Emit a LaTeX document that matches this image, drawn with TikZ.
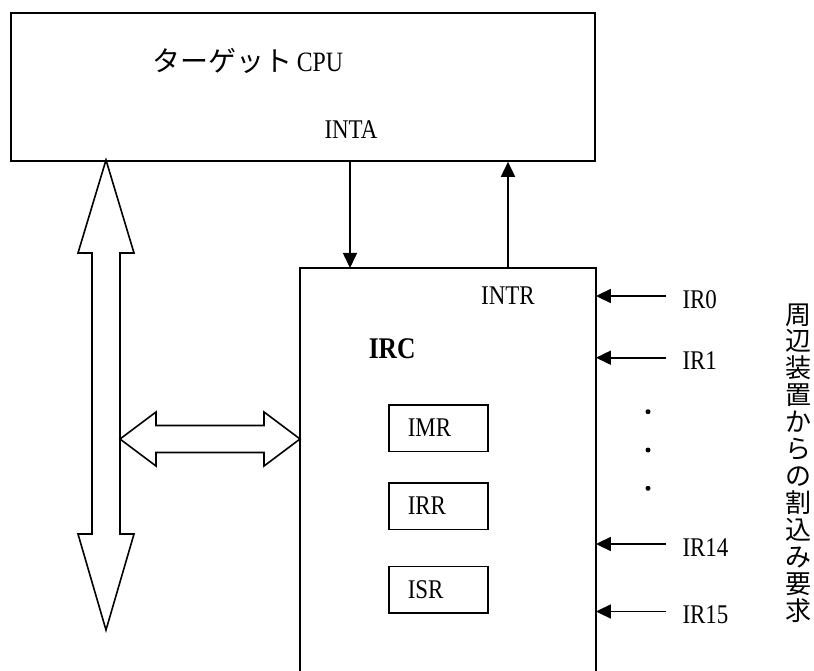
\documentclass[tikz,border=0pt]{standalone}
\usepackage{fontspec}
\setmainfont{Liberation Serif}
\newfontfamily\cjk{Noto Sans CJK JP}
\newfontfamily\lat[FakeStretch=0.85]{Liberation Serif}
\usetikzlibrary{arrows.meta,calc}

\begin{document}
\begin{tikzpicture}[x=1pt,y=-1pt,
  line width=1.6pt,
  regbox/.style={draw, line width=1.5pt, minimum width=99pt, minimum height=46.5pt,
    text width=61pt, inner xsep=19pt, inner ysep=0pt, align=left,
    font=\lat\fontsize{27}{27}\selectfont, anchor=north west},
  lbl/.style={inner sep=0pt, font=\lat\fontsize{27}{27}\selectfont},
  sig/.style={-{Triangle[length=15pt,width=14pt]}, line width=1.6pt},
  bus/.style={draw, line width=1.6pt, line join=miter},
  ellipsisdot/.style={circle, fill, inner sep=0pt, minimum size=5pt}]

\useasboundingbox (0,0) rectangle (814,671);

% host processor
\node[draw, line width=1.8pt, inner sep=0pt, minimum width=584.3pt, minimum height=148pt,
      anchor=north west] (cpu) at (10,12) {};
\node[inner sep=0pt, anchor=base west, font=\lat\fontsize{28}{28}\selectfont]
  (cputxt) at (152,72) {{\cjk\fontsize{28}{28}\selectfont ターゲット}\hspace{4pt}CPU};
\node[lbl, anchor=base] (intatxt) at (351,138.3) {INTA};

% interrupt controller (open at the bottom)
\node[inner sep=0pt, minimum width=294.3pt, minimum height=405pt,
      anchor=north west] (irc) at (300,268) {};
\draw (irc.south west) |- (irc.north east) -- (irc.south east);
\node[lbl, anchor=base] (intrtxt) at (508,304) {INTR};
\node[inner sep=0pt, anchor=base west, font=\lat\bfseries\fontsize{30}{30}\selectfont]
  (irctxt) at (368,358.3) {IRC};

% registers
\node[regbox] (imr) at (388,404) {IMR};
\node[regbox] (irr) at (388,482) {IRR};
\node[regbox] (isr) at (388,565.7) {ISR};

% INTA / INTR handshake
\coordinate (inta) at (350,0);
\coordinate (intr) at (508,0);
\draw[sig] (cpu.south -| inta) -- (irc.north -| inta);
\draw[sig] (irc.north -| intr) -- (cpu.south -| intr);

% interrupt request lines
\foreach \name/\yy in {IR0/296, IR1/357.7, IR14/544, IR15/611.5}{
  \coordinate (src\name) at (666,\yy);
  \draw[sig] (src\name) -- (src\name -| irc.east);
  \node[lbl, anchor=base west] (lbl\name) at (681.7,\yy+12) {\name};
}
\foreach \i/\yy in {1/411.7, 2/450, 3/488.3}
  \node[ellipsisdot] (dot\i) at (648,\yy) {};

% vertical caption
\node[inner sep=0pt, align=center, font=\cjk\fontsize{26}{26.95}\selectfont]
  (periph) at (798,463) {周\\辺\\装\\置\\か\\ら\\の\\割\\込\\み\\要\\求};

% system bus
\coordinate (busTop) at (106,160);
\coordinate (busBot) at (106,630);
\draw[bus] (busTop) -- ++(28,93) -- ++(-14,0) -- ($(busBot)+(14,-96)$) -- ++(14,0)
  -- (busBot) -- ++(-28,-96) -- ++(14,0) -- ($(busTop)+(-14,93)$) -- ++(-14,0) -- cycle;

% bus link to the controller
\coordinate (hL) at (120,439);
\coordinate (hR) at (irc.west |- 0,439);
\draw[bus] (hL) -- ++(36,-27) -- ++(0,13.5) -- ($(hR)+(-36,-13.5)$) -- ++(0,-13.5)
  -- (hR) -- ++(-36,27) -- ++(0,-13.5) -- ($(hL)+(36,13.5)$) -- ++(0,13.5) -- cycle;
\end{tikzpicture}
\end{document}
